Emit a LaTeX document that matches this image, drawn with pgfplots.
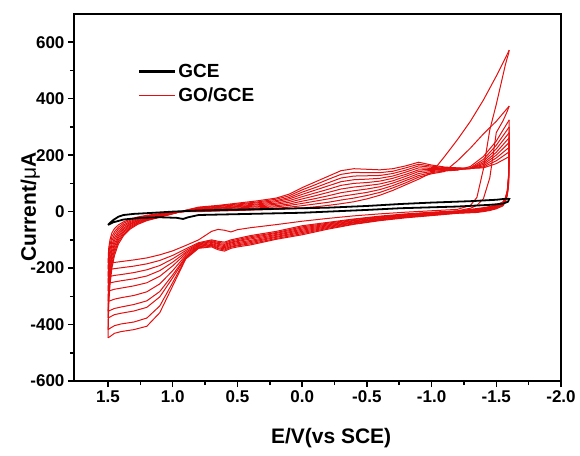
\documentclass[border=0pt]{standalone}
\usepackage{pgfplots}
\usepackage{pgfplotstable}
\pgfplotsset{compat=1.18}
\usepackage{fontspec}
\setmainfont{Liberation Sans}
\definecolor{cvred}{RGB}{228,14,14}

\pgfplotstableread{
x c1 c2 c3 c4 c5 c6 c7 c8 c9 c10
1.5 -182 -205 -230 -254 -281 -318 -353 -377 -418 -447
1.495 -130 -152 -174 -197 -219 -241 -263 -286 -308 -330
1.485 -100 -118 -136 -153 -171 -189 -207 -224 -242 -260
1.47 -75 -89 -103 -117 -131 -144 -158 -172 -186 -200
1.45 -60 -71 -81 -92 -102 -113 -123 -134 -144 -155
1.42 -47 -55 -62 -70 -77 -85 -92 -100 -107 -115
1.38 -36 -41 -47 -52 -58 -63 -69 -74 -80 -85
1.33 -27 -31 -35 -39 -43 -46 -50 -54 -58 -62
1.27 -19 -22 -25 -28 -31 -33 -36 -39 -42 -45
1.2 -13 -15 -17 -19 -21 -24 -26 -28 -30 -32
1.1 -7 -8 -10 -11 -13 -14 -16 -17 -19 -20
1.0 -3 -4 -4 -5 -5 -6 -6 -7 -7 -8
0.9 0 1 1 2 2 3 3 4 4 5
0.8 0 2 4 5 7 9 11 12 14 16
0.65 2 4 6 9 11 13 15 18 20 22
0.5 4 7 10 13 16 18 21 24 27 30
0.35 6 10 13 17 20 24 27 31 34 38
0.2 8 12 17 21 26 30 35 39 44 48
0.1 10 16 22 27 33 39 45 50 56 62
0 13 21 29 37 45 53 61 69 77 85
-0.1 17 27 37 46 56 66 76 85 95 105
-0.2 22 33 45 56 68 79 91 102 114 125
-0.3 28 41 54 67 80 93 106 119 132 145
-0.4 35 48 61 74 87 100 113 126 139 152
-0.5 45 57 68 80 92 103 115 127 138 150
-0.6 58 68 78 88 98 108 118 128 138 148
-0.7 75 84 92 101 109 118 126 135 143 152
-0.8 95 102 110 117 125 132 140 147 155 162
-0.9 115 122 128 135 142 148 155 162 168 175
-1.0 138 134 138 142 146 149 153 157 161 165
-1.1 195 142 144 146 148 150 152 154 156 158
-1.2 255 180 147 148 149 151 152 153 154 155
-1.3 320 225 160 155 152 152 153 153 153 153
-1.4 395 275 195 185 178 172 167 162 158 155
-1.5 480 320 250 235 222 210 200 190 180 170
-1.6 572 374 325 300 280 262 245 228 212 195
}\fwd

\pgfplotstableread{
x c1 c2 c3 c4 c5 c6 c7 c8 c9 c10
-1.6 572 374 325 300 280 262 245 228 212 195
-1.595 560 368 130 125 120 115 110 105 100 95
-1.585 545 356 75 72 70 67 64 62 60 58
-1.57 520 340 48 46 44 42 40 38 36 34
-1.55 480 320 34 32 30 28 26 24 22 20
-1.5 380 280 24 22 20 18 16 14 12 10
-1.45 290 120 18 16 14 12 10 8 6 4
-1.4 150 45 14 12 10 8 6 4 2 0
-1.35 50 22 11 9 7 5 3 1 -1 -3
-1.3 22 12 8 6 4 2 0 -2 -3 -4
-1.2 8 3 2 1 0 -2 -3 -4 -5 -6
-1.0 3 -2 -4 -5 -7 -8 -10 -11 -13 -14
-0.8 -2 -8 -10 -12 -13 -15 -17 -19 -20 -22
-0.6 -8 -16 -18 -20 -22 -24 -26 -28 -30 -32
-0.4 -15 -26 -28 -31 -33 -36 -38 -40 -43 -45
-0.2 -24 -38 -41 -44 -47 -50 -53 -56 -59 -62
0 -34 -50 -54 -58 -62 -66 -70 -74 -78 -82
0.2 -46 -70 -74 -77 -81 -84 -88 -91 -95 -98
0.4 -57 -85 -89 -93 -97 -102 -106 -110 -114 -118
0.5 -64 -95 -99 -103 -106 -110 -114 -118 -121 -125
0.55 -72 -100 -104 -108 -111 -115 -119 -123 -126 -130
0.6 -66 -108 -112 -116 -120 -124 -128 -132 -136 -140
0.65 -63 -105 -109 -113 -116 -120 -124 -128 -131 -135
0.7 -70 -100 -103 -106 -109 -113 -116 -119 -122 -125
0.8 -100 -110 -113 -115 -118 -120 -123 -125 -128 -130
0.9 -120 -132 -138 -144 -149 -155 -160 -163 -166 -168
1.0 -139 -155 -167 -179 -192 -209 -224 -234 -251 -263
1.1 -153 -173 -191 -209 -229 -256 -283 -302 -334 -358
1.2 -164 -185 -206 -228 -252 -284 -316 -339 -377 -406
1.3 -171 -193 -216 -238 -263 -297 -329 -352 -391 -418
1.4 -177 -199 -223 -245 -271 -305 -338 -360 -398 -425
1.45 -180 -202 -226 -249 -275 -310 -343 -365 -404 -431
1.48 -181 -204 -229 -252 -279 -315 -349 -372 -412 -441
1.5 -182 -205 -230 -254 -281 -318 -353 -377 -418 -447
}\rev

\begin{document}
\begin{tikzpicture}
\path[use as bounding box] (-74pt,-74pt) rectangle (506pt,381pt);
\begin{axis}[
  at={(0pt,0pt)}, anchor=south west,
  scale only axis, width=487pt, height=367pt,
  x dir=reverse, xmin=-2, xmax=1.763, ymin=-600, ymax=700,
  xtick={-2,-1.5,-1,-0.5,0,0.5,1,1.5},
  xticklabels={-2.0,-1.5,-1.0,-0.5,0.0,0.5,1.0,1.5},
  ytick={-600,-400,-200,0,200,400,600},
  yticklabels={-600,-400,-200,0,200,400,600},
  minor x tick num=1, minor y tick num=1,
  tick pos=left, tick align=outside,
  major tick length=6pt, minor tick length=4pt,
  every tick/.style={black, line width=1.5pt},
  axis line style={line width=2pt},
  ticklabel style={font=\fontsize{17}{20}\selectfont\bfseries},
  xlabel={E/V(vs SCE)},
  ylabel={Current/{\mdseries μ}A},
  label style={font=\fontsize{21}{24}\selectfont\bfseries},
  xlabel style={at={(axis description cs:0.528,-0.155)}, anchor=center},
  ylabel style={at={(axis description cs:-0.09,0.474)}, anchor=center, rotate=0},
  legend style={draw=none, fill=none, at={(axis description cs:0.125,0.875)}, anchor=north west,
    font=\fontsize{19}{22}\selectfont\bfseries, row sep=5pt},
  legend cell align=left,
  legend image code/.code={\draw[#1] (0pt,0pt) -- (36pt,0pt);},
]
\addlegendimage{black, line width=2.2pt}
\addlegendentry{GCE}
\addlegendimage{cvred, line width=1.6pt}
\addlegendentry{GO/GCE}
\foreach \c in {c1,c2,c3,c4,c5,c6,c7,c8,c9,c10}{
  \addplot[cvred, line width=1pt, forget plot] table[x=x, y=\c] {\fwd};
  \addplot[cvred, line width=1pt, forget plot] table[x=x, y=\c] {\rev};
}
\addplot[black, line width=1.8pt, forget plot] coordinates {
(1.5,-47) (1.48,-38) (1.46,-30) (1.42,-18) (1.38,-12) (1.3,-8) (1.18,-5) (1.0,0) (0.8,4) (0.4,8) (0,12) (-0.2,14) (-0.5,20) (-0.76,27) (-1.0,32) (-1.3,37) (-1.5,42) (-1.58,46) (-1.6,45)
(-1.59,35) (-1.55,28) (-1.45,24) (-1.2,18) (-0.76,12) (-0.5,6) (-0.2,0) (0,-4) (0.4,-8) (0.8,-12) (0.88,-20) (0.92,-26) (0.97,-22) (1.1,-20) (1.25,-22) (1.38,-28) (1.46,-38) (1.5,-47)
};
\draw[line width=2.2pt] (rel axis cs:0,0) rectangle (rel axis cs:1,1);
\end{axis}
\end{tikzpicture}
\end{document}
